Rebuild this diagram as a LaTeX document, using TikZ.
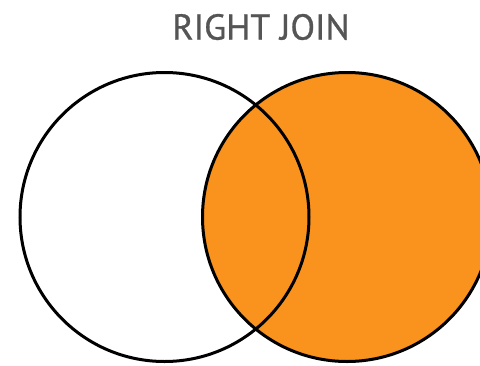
\documentclass[tikz,border=0pt]{standalone}
\usepackage{fontspec}
\setsansfont{PT Sans}
\usepackage{xcolor}
\definecolor{joinorange}{RGB}{250,146,30}
\definecolor{titlegray}{RGB}{85,85,85}

\begin{document}
\begin{tikzpicture}[
  x=1pt, y=-1pt,
  % Node Styles
  setcircle/.style={circle, draw=black, line width=3pt, inner sep=0pt, minimum size=289pt},
  titletext/.style={text=titlegray, font=\sffamily\fontsize{36}{36}\selectfont\addfontfeature{FakeBold=0.8}, inner sep=0pt, anchor=center}
]
\useasboundingbox (0,0) rectangle (480,365);
\clip (0,0) rectangle (480,365);

% Diagram for: right join

\node[titletext] (title) at (261,27) {RIGHT JOIN};

\node[setcircle, fill=joinorange] (B) at (347,217) {};
\node[setcircle] (A) at (164.5,217) {};

\end{tikzpicture}
\end{document}
